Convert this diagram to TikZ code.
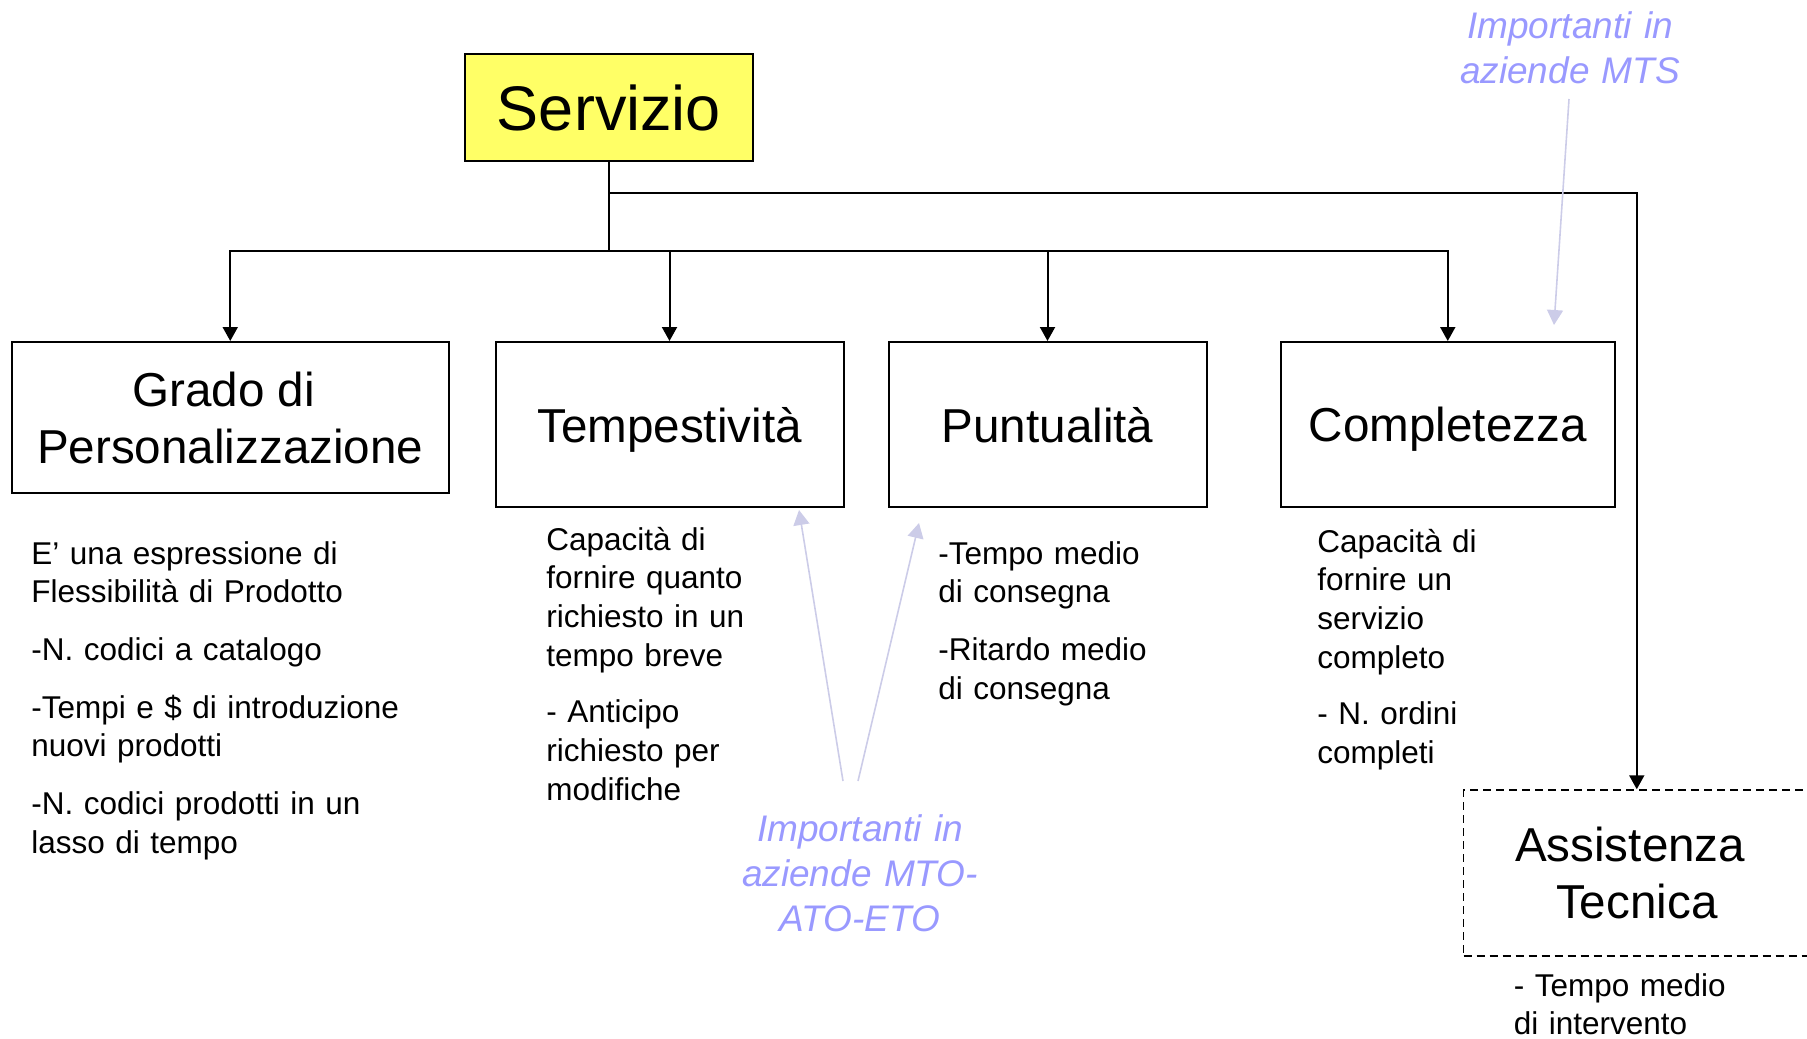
\documentclass[tikz,border=0pt]{standalone}
\usepackage{fontspec}
\setmainfont{Liberation Sans}
\usetikzlibrary{arrows.meta}
\definecolor{annot}{RGB}{153,153,255}
\definecolor{lav}{RGB}{204,204,232}
\definecolor{servfill}{RGB}{255,255,102}
\tikzset{
 box/.style={draw=black, line width=1pt, rectangle, inner sep=0pt, align=center, text depth=0pt, font=\fontsize{23.8}{28.5}\selectfont},
 arr/.style={draw=black, line width=1pt, -{Triangle[length=7pt,width=7.5pt]}},
 body/.style={inner sep=0pt, anchor=base west, align=left, font=\fontsize{15.75}{19.4}\selectfont},
 annottext/.style={inner sep=0pt, anchor=base, align=center, text=annot, font=\fontsize{18.5}{22.5}\selectfont\itshape},
 lavarr/.style={draw=lav, line width=0.8pt, -{Triangle[length=7.5pt,width=8pt]}},
}
\begin{document}
\begin{tikzpicture}[x=0.5pt,y=-0.5pt]
\path[use as bounding box] (0,0) rectangle (1807,1038);
\clip (0,0) rectangle (1807,1038);

% main boxes
\node[box, fill=servfill, minimum width=144pt, minimum height=53.5pt, font=\fontsize{31.5}{36}\selectfont] (serv) at (609,107.5) {Servizio};
\node[box, minimum width=218.75pt, minimum height=75.5pt] (grado) at (230.25,417.5) {Grado di\hspace*{0.278em}\\Personalizzazione};
\node[box, minimum width=174pt, minimum height=82.5pt] (temp) at (669.5,424.5) {Tempestività};
\node[box, minimum width=159pt, minimum height=82.5pt] (punt) at (1047.5,424.5) {Puntualità};
\node[box, minimum width=166.75pt, minimum height=82.5pt] (compl) at (1447.75,424.5) {Completezza};
\node[box, dash pattern=on 4pt off 2.5pt, line width=0.75pt, minimum width=173.25pt, minimum height=83pt] (assist) at (1636.75,873) {Assistenza\hspace*{0.278em}\\Tecnica};

% connectors
\coordinate (bus) at (0,251);
\coordinate (bustop) at (0,193);
\draw[arr] (serv.south) -- (serv.south |- bus) -| (grado.north);
\draw[arr] (serv.south) -- (serv.south |- bus) -| (temp.north);
\draw[arr] (serv.south) -- (serv.south |- bus) -| (punt.north);
\draw[arr] (serv.south) -- (serv.south |- bus) -| (compl.north);
\draw[arr] (serv.south) -- (serv.south |- bustop) -| (assist.north);

% body texts
\node[body, text width=200pt] (gradotxt) at (31,564) {E’ una espressione di\\Flessibilità di Prodotto\\[9.4pt]-N. codici a catalogo\\[9.4pt]-Tempi e \$ di introduzione\\nuovi prodotti\\[9.4pt]-N. codici prodotti in un\\lasso di tempo};
\node[body, text width=120pt] (temptxt) at (546,550) {Capacità di\\fornire quanto\\richiesto in un\\tempo breve\\[8.8pt]- Anticipo\\richiesto per\\modifiche};
\node[body, text width=120pt] (punttxt) at (938,564) {-Tempo medio\\di consegna\\[9.4pt]-Ritardo medio\\di consegna};
\node[body, text width=120pt] (compltxt) at (1317,552) {Capacità di\\fornire un\\servizio\\completo\\[8.8pt]- N. ordini\\completi};
\node[body, text width=120pt] (assisttxt) at (1513.5,996) {- Tempo medio\\di intervento};

% annotations
\node[annottext, text width=150pt] (mts) at (1570,38.5) {Importanti in\\aziende MTS};
\node[annottext, text width=150pt] (mto) at (860,841) {Importanti in\\aziende MTO-\\ATO-ETO};

\coordinate (mtsS) at (1569,99);
\coordinate (mtsE) at (1554,325);
\coordinate (mtoS1) at (843,781);
\coordinate (mtoE1) at (799,510);
\coordinate (mtoS2) at (858,781);
\coordinate (mtoE2) at (919,523);
\draw[lavarr] (mtsS) -- (mtsE);
\draw[lavarr] (mtoS1) -- (mtoE1);
\draw[lavarr] (mtoS2) -- (mtoE2);
\end{tikzpicture}
\end{document}
